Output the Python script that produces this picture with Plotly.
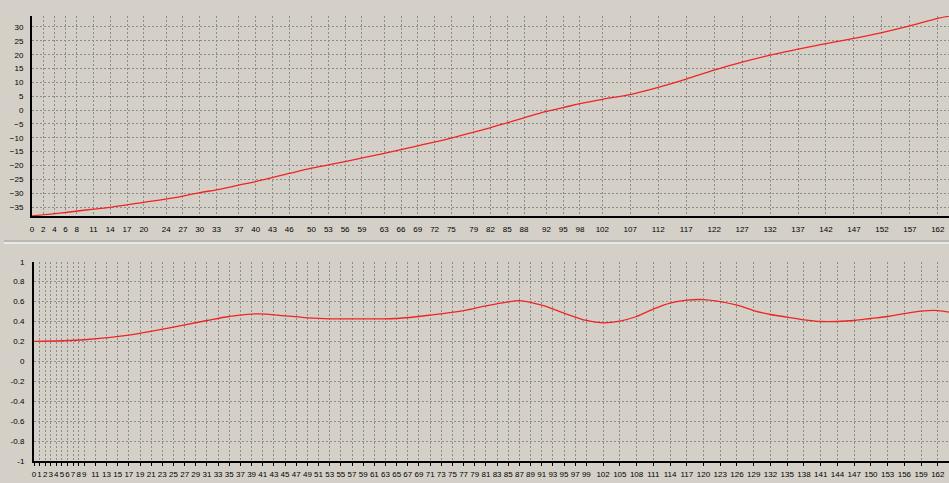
import plotly.graph_objects as go

# ---- data ----
top_x = [0, 5, 10, 14, 20, 25, 30, 33, 37, 40, 46, 50, 56, 63, 69, 75, 79, 82, 85, 88, 92, 95, 98,
         102, 107, 112, 117, 122, 127, 132, 137, 142, 147, 152, 157, 162, 164]
top_y = [-38.2, -37.2, -36.0, -35.1, -33.3, -31.8, -29.8, -28.8, -27.1, -25.8, -22.9, -21.0, -18.6,
         -15.6, -12.9, -10.1, -8.0, -6.3, -4.6, -2.8, -0.5, 0.9, 2.3,
         3.9, 5.6, 8.2, 11.2, 14.4, 17.3, 19.8, 22.0, 24.0, 25.9, 28.0, 30.4, 33.1, 33.9]

bot_x = [0, 9, 17, 25, 31, 35, 40, 45, 49, 53, 61, 65, 71, 77, 81, 85, 87, 91, 95, 99, 102, 105,
         108, 111, 114, 117, 120, 123, 126, 129, 132, 135, 138, 141, 144, 147, 150, 153, 156, 159, 162, 164]
bot_y = [0.20, 0.217, 0.264, 0.344, 0.41, 0.45, 0.477, 0.457, 0.437, 0.427, 0.427, 0.43, 0.464, 0.51,
         0.557, 0.597, 0.61, 0.564, 0.484, 0.41, 0.387, 0.404,
         0.45, 0.524, 0.584, 0.614, 0.62, 0.60, 0.564, 0.51, 0.47, 0.444, 0.417, 0.40, 0.40, 0.41,
         0.43, 0.45, 0.48, 0.504, 0.51, 0.494]

top_xticks = [0, 2, 4, 6, 8, 11, 14, 17, 20, 24, 27, 30, 33, 37, 40, 43, 46, 50, 53, 56, 59, 63, 66,
              69, 72, 75, 79, 82, 85, 88, 92, 95, 98, 102, 107, 112, 117, 122, 127, 132, 137, 142,
              147, 152, 157, 162]
bot_xticks = list(range(0, 10)) + list(range(11, 100, 2)) + list(range(102, 163, 3))
top_yticks = [-35, -30, -25, -20, -15, -10, -5, 0, 5, 10, 15, 20, 25, 30]
bot_yticks = [-1, -0.8, -0.6, -0.4, -0.2, 0, 0.2, 0.4, 0.6, 0.8, 1]
bot_ytext = ["-1", "-0.8", "-0.6", "-0.4", "-0.2", "0", "0.2", "0.4", "0.6", "0.8", "1"]

W, H = 949, 483
BG = "#D4D0C8"
RED = "#F02424"
FONT = dict(family="Liberation Sans, Arial, sans-serif", size=8, color="#000000")

fig = go.Figure()
fig.add_trace(go.Scatter(x=top_x, y=top_y, mode="lines", line=dict(color=RED, width=1.3, shape="spline"),
                         xaxis="x", yaxis="y", showlegend=False, hoverinfo="skip"))
fig.add_trace(go.Scatter(x=bot_x, y=bot_y, mode="lines", line=dict(color=RED, width=1.3, shape="spline"),
                         xaxis="x2", yaxis="y2", showlegend=False, hoverinfo="skip"))

grid = dict(showgrid=True, gridcolor="#8C8C8C", gridwidth=1, griddash="2px,2px", zeroline=False,
            showline=True, linecolor="#000000", linewidth=2, tickfont=FONT, tickangle=0,
            automargin=False)

def px_x(p):
    return p / W

def px_y(p):
    return (H - p) / H

fig.update_layout(
    width=W, height=H, margin=dict(l=0, r=0, t=0, b=0, autoexpand=False),
    paper_bgcolor=BG, plot_bgcolor=BG, showlegend=False,
    xaxis=dict(domain=[px_x(32), 1], range=[0, 164], tickmode="array", tickvals=top_xticks,
               ticks="", ticklabelstandoff=4, anchor="y", **grid),
    yaxis=dict(domain=[px_y(216), px_y(16)], range=[-38.25, 33.97], tickmode="array", tickvals=top_yticks,
               ticks="", ticklabelstandoff=5, anchor="x", **grid),
    xaxis2=dict(domain=[px_x(34), 1], range=[0, 164], tickmode="array", tickvals=bot_xticks,
                ticks="outside", ticklen=3, tickcolor="#000000", ticklabelstandoff=1, anchor="y2", **grid),
    yaxis2=dict(domain=[px_y(461), px_y(261.7)], range=[-1, 1], tickmode="array", tickvals=bot_yticks,
                ticktext=bot_ytext, ticks="", ticklabelstandoff=6, anchor="x2", **grid),
    shapes=[
        dict(type="line", xref="paper", yref="paper", x0=px_x(4), x1=1, y0=px_y(241), y1=px_y(241),
             line=dict(color="#A0A0A0", width=1)),
        dict(type="line", xref="paper", yref="paper", x0=px_x(4), x1=1, y0=px_y(243), y1=px_y(243),
             line=dict(color="#FFFFFF", width=1)),
    ],
)

fig.write_html("out.html", config={"displayModeBar": False},
               post_script="document.body.style.margin='0';document.body.style.overflow='hidden';"
                           "document.body.style.background='" + BG + "';")
